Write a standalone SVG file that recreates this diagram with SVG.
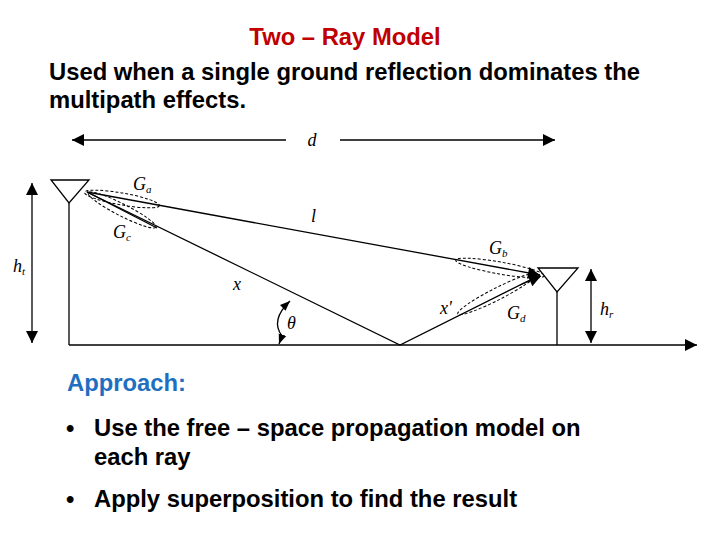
<svg xmlns="http://www.w3.org/2000/svg" width="720" height="540" viewBox="0 0 720 540">
<defs>
<marker id="ah" viewBox="0 0 10 10" refX="10" refY="5" markerWidth="10" markerHeight="10" orient="auto-start-reverse" markerUnits="userSpaceOnUse"><path d="M0,1 L10,5 L0,9 z" fill="#000"/></marker>
<marker id="ab" viewBox="0 0 10 10" refX="10" refY="5" markerWidth="18" markerHeight="12" orient="auto-start-reverse" markerUnits="userSpaceOnUse"><path d="M0,0 L10,5 L0,10 z" fill="#000"/></marker>
<style>
.t{font-family:"Liberation Sans",Arial,sans-serif;font-weight:bold;font-size:23.8px}
.m{font-family:"Liberation Serif",serif;font-style:italic;font-size:18px}
.l{stroke:#000;stroke-width:1.3;fill:none}
.d{stroke:#000;stroke-width:1;fill:none;stroke-dasharray:3,2}
</style>
</defs>
<rect width="720" height="540" fill="#fff"/>
<text class="t" x="345" y="45" text-anchor="middle" fill="#c00000" font-size="22">Two – Ray Model</text>
<text class="t" x="49" y="80" font-size="21.5">Used when a single ground reflection dominates the</text>
<text class="t" x="49" y="108" font-size="21.5">multipath effects.</text>
<g id="connectors">
<line class="l" x1="72" y1="140" x2="286" y2="140" marker-start="url(#ab)"/>
<line class="l" x1="340" y1="140" x2="555" y2="140" marker-end="url(#ab)"/>
<line class="l" x1="69" y1="345" x2="697" y2="345" marker-end="url(#ab)"/>
<line class="l" x1="32" y1="183" x2="32" y2="343" stroke-width="0.8" marker-start="url(#ab)" marker-end="url(#ab)"/>
<line class="l" x1="591" y1="269" x2="591" y2="343" marker-start="url(#ab)" marker-end="url(#ab)"/>
<line class="l" x1="87" y1="192" x2="540" y2="275" marker-end="url(#ab)"/>
<polyline class="l" points="87,192 400,345 540,275"/>
<line class="l" x1="520" y1="285" x2="541" y2="276" marker-end="url(#ab)"/>
<line class="l" x1="87" y1="192" x2="157" y2="228"/>
<path class="l" d="M282,336 Q270,320 290,301" marker-end="url(#ah)"/>
<path class="l" d="M282,336 L279,344" marker-end="url(#ah)"/>
<ellipse class="d" cx="122" cy="199" rx="38" ry="6" transform="rotate(10 122 199)"/>
<ellipse class="d" cx="122" cy="210" rx="38" ry="6" transform="rotate(27 122 210)"/>
<ellipse class="d" cx="500" cy="268" rx="45" ry="6" transform="rotate(10 500 268)"/>
<ellipse class="d" cx="497" cy="294" rx="44" ry="6" transform="rotate(-27 497 294)"/>
</g>
<g id="tx"><polygon class="l" points="51,180 89,180 69,203"/><line class="l" x1="69" y1="203" x2="69" y2="345"/></g>
<g id="rx"><polygon class="l" points="538,268 578,268 557,292"/><line class="l" x1="557" y1="292" x2="557" y2="345"/></g>
<g id="labels">
<text class="m" x="312" y="146" text-anchor="middle">d</text>
<text class="m" x="133" y="190">G<tspan font-size="11" dy="3">a</tspan></text>
<text class="m" x="113" y="238">G<tspan font-size="11" dy="3">c</tspan></text>
<text class="m" x="311" y="222">l</text>
<text class="m" x="233" y="290">x</text>
<text class="m" x="287" y="329">θ</text>
<text class="m" x="13" y="272">h<tspan font-size="11" dy="3">t</tspan></text>
<text class="m" x="489" y="254" font-style="normal">G<tspan font-size="11" dy="3" font-style="italic">b</tspan></text>
<text class="m" x="440" y="314">x'</text>
<text class="m" x="507" y="319" font-style="normal">G<tspan font-size="11" dy="3" font-style="italic">d</tspan></text>
<text class="m" x="600" y="315">h<tspan font-size="11" dy="3">r</tspan></text>
</g>
<text class="t" x="67" y="391" fill="#1f6fc0" font-size="21">Approach:</text>
<text class="t" x="66" y="436">•</text>
<text class="t" x="94" y="436" font-size="21.5">Use the free – space propagation model on</text>
<text class="t" x="94" y="465" font-size="21.5">each ray</text>
<text class="t" x="66" y="507">•</text>
<text class="t" x="94" y="507" font-size="21.5">Apply superposition to find the result</text>
</svg>
